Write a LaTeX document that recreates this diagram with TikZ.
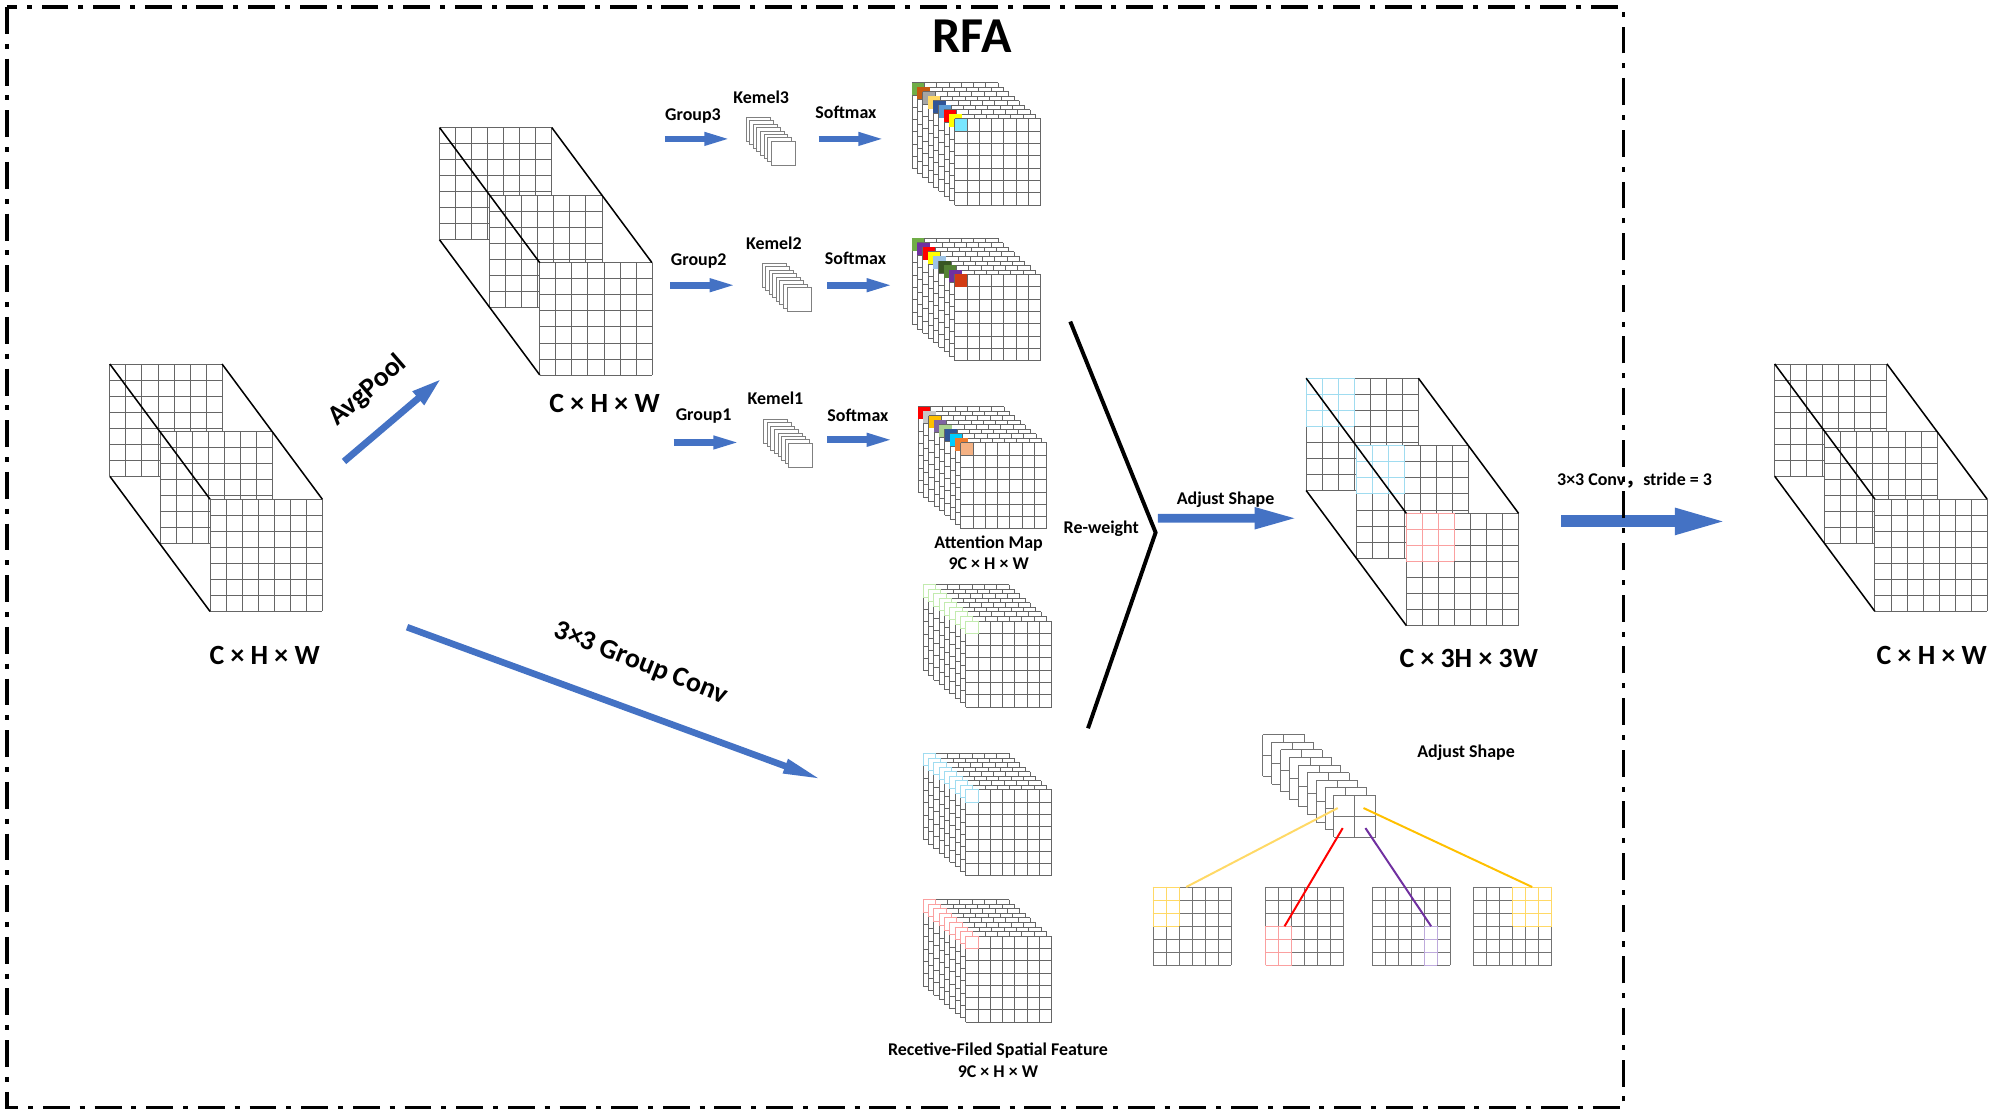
\documentclass[tikz,border=0pt]{standalone}
\usepackage{fontspec}
\setmainfont{Carlito}
\newfontfamily\cjk{Noto Sans CJK SC}
\usetikzlibrary{positioning,arrows.meta}
\tikzset{>=latex}

\definecolor{ArrowBlue}{RGB}{68,114,196}
\definecolor{amGreen}{RGB}{112,173,71}
\definecolor{amBrown}{RGB}{197,90,17}
\definecolor{amGray}{RGB}{165,165,165}
\definecolor{amGold}{RGB}{255,217,102}
\definecolor{amNavy}{RGB}{47,85,151}
\definecolor{amSky}{RGB}{91,155,213}
\definecolor{amRed}{RGB}{255,0,0}
\definecolor{amYellow}{RGB}{255,255,0}
\definecolor{amCyan}{RGB}{120,230,255}
\definecolor{amPurple}{RGB}{112,48,160}
\definecolor{amPale}{RGB}{157,195,230}
\definecolor{amForest}{RGB}{56,87,35}
\definecolor{amLeaf}{RGB}{84,130,53}
\definecolor{amRust}{RGB}{210,60,20}
\definecolor{amSilver}{RGB}{200,200,200}
\definecolor{amAmber}{RGB}{255,192,0}
\definecolor{amViolet}{RGB}{128,100,162}
\definecolor{amSage}{RGB}{169,209,142}
\definecolor{amAqua}{RGB}{0,204,255}
\definecolor{amOrange}{RGB}{237,125,49}
\definecolor{amPeach}{RGB}{244,177,131}
\definecolor{tintGreen}{RGB}{195,235,175}
\definecolor{tintCyan}{RGB}{160,220,240}
\definecolor{tintRed}{RGB}{250,160,160}
\definecolor{tintViolet}{RGB}{190,170,220}

% one white sheet with an n x n grid
\newcommand{\gridsheet}[4]{%
  \fill[white] (#1,#2) rectangle ++(#3*#4,#3*#4);
  \foreach \g in {0,...,#3}{%
    \draw[gridline] (#1+\g*#4,#2) -- ++(0,#3*#4);
    \draw[gridline] (#1,#2+\g*#4) -- ++(#3*#4,0);
  }%
}
% coloured lines over a block of cells
\newcommand{\tintblock}[6]{%
  \foreach \g in {0,...,#3}{\draw[#6,line width=0.45pt] (#1+\g*#5,#2) -- ++(0,#4*#5);}
  \foreach \g in {0,...,#4}{\draw[#6,line width=0.45pt] (#1,#2+\g*#5) -- ++(#3*#5,0);}
}
% feature cube: three sheets and its edges
\newcommand{\featcube}[4][]{%
  \foreach \k in {0,1,2}{\gridsheet{#3+\k*39.3}{#4+\k*53}{7}{12.57}}
  #1
  \coordinate (#2) at (#3,#4);
  \draw[cubeedge] (#2) -- ++(78.6,106);
  \draw[cubeedge] (#3+88,#4) -- ++(78.6,106);
  \draw[cubeedge] (#3,#4+88) -- ++(78.6,106);
}
% stack of nine maps, first cell marked
\newcommand{\mapstack}[4]{%
  \foreach \col [count=\i from 0] in {#4}{%
    \gridsheet{#1+\i*4.18}{#2+\i*3.55}{7}{9.65}
    \path[#3=\col,line width=0.45pt] (#1+\i*4.18,#2+\i*3.55) rectangle ++(9.65,9.65);
  }%
}
% stack of kernels
\newcommand{\kernstack}[2]{%
  \foreach \i in {0,...,7}{\filldraw[kernsheet] (#1+\i*2.8,#2+\i*2.7) rectangle ++(18.8,18.8);}
}

\begin{document}
\begin{tikzpicture}[x=0.025cm,y=-0.025cm,
    gridline/.style={black!60,line width=0.45pt},
    cubeedge/.style={black,line width=0.85pt},
    kernsheet/.style={draw=black!50,fill=white,line width=0.45pt},
    flow/.style={ArrowBlue,line width=3.7pt,-{Triangle[length=16pt,width=6.5pt]}},
    lbl/.style={font=\fontsize{10}{12}\selectfont\bfseries,inner sep=0pt},
    dimlbl/.style={font=\fontsize{15.5}{18}\selectfont\bfseries,inner sep=0pt},
    link/.style={line width=1.1pt}]
    \useasboundingbox (0,0) rectangle (1568,875);

    % cubes
    \featcube{incube}{86.1}{285.4}
    \featcube{poolcube}{344.6}{100}
    \featcube[\tintblock{1024}{296.5}{3}{3}{12.57}{tintCyan}
              \tintblock{1063.3}{349.5}{3}{3}{12.57}{tintCyan}
              \tintblock{1102.6}{402.5}{3}{3}{12.57}{tintRed}]{bigcube}{1024}{296.5}
    \featcube{outcube}{1391.3}{285.3}
    \node[dimlbl] (inlbl) at (207.5,514) {C × H × W};
    \node[dimlbl] (poollbl) at (474,316) {C × H × W};
    \node[dimlbl] (biglbl) at (1151.5,516.5) {C × 3H × 3W};
    \node[dimlbl] (outlbl) at (1514.5,514) {C × H × W};

    % kernels and attention maps
    \kernstack{584.9}{91.9}
    \kernstack{597.4}{206.4}
    \kernstack{598.7}{328.6}
    \mapstack{715}{64.8}{fill}{amGreen,amBrown,amGray,amGold,amNavy,amSky,amRed,amYellow,amCyan}
    \mapstack{715}{186.8}{fill}{amGreen,amPurple,amRed,amYellow,amPale,amForest,amLeaf,amPurple,amRust}
    \mapstack{719.7}{318.7}{fill}{amRed,amSilver,amAmber,amViolet,amSage,amNavy,amAqua,amOrange,amPeach}

    % receptive-field features
    \mapstack{723.6}{458.4}{draw}{tintGreen,tintGreen,tintGreen,tintGreen,tintGreen,tintGreen,tintGreen,tintGreen,tintGreen}
    \mapstack{723.6}{590.7}{draw}{tintCyan,tintCyan,tintCyan,tintCyan,tintCyan,tintCyan,tintCyan,tintCyan,tintCyan}
    \mapstack{723.6}{705.4}{draw}{tintRed,tintRed,tintRed,tintRed,tintRed,tintRed,tintRed,tintRed,tintRed}

    % group branches
    \coordinate (g3-s) at (521.2,108.9); \coordinate (g3-e) at (574.7,108.9);
    \coordinate (s3-s) at (641.8,108.9); \coordinate (s3-e) at (695.4,108.9);
    \coordinate (g2-s) at (525.6,223.6); \coordinate (g2-e) at (578.9,223.6);
    \coordinate (s2-s) at (648.7,223.6); \coordinate (s2-e) at (702,223.6);
    \coordinate (g1-s) at (528.2,346.9); \coordinate (g1-e) at (581.8,346.9);
    \coordinate (s1-s) at (648.7,344.8); \coordinate (s1-e) at (702,344.8);
    \foreach \a in {g3,s3,g2,s2,g1,s1} \draw[flow] (\a-s) -- (\a-e);
    \node[lbl] (g3lbl) at (543.3,90.7) {Group3};
    \node[lbl] (k3lbl) at (596.8,76.3) {Kemel3};
    \node[lbl] (s3lbl) at (663.2,88) {Softmax};
    \node[lbl] (g2lbl) at (547.8,205) {Group2};
    \node[lbl] (k2lbl) at (606.7,190.7) {Kemel2};
    \node[lbl] (s2lbl) at (670.7,202.5) {Softmax};
    \node[lbl] (g1lbl) at (551.6,326) {Group1};
    \node[lbl] (k1lbl) at (608,312.2) {Kemel1};
    \node[lbl] (s1lbl) at (672.6,326) {Softmax};
    \node[lbl] (attlbl) at (775.1,425.8) {Attention Map};
    \node[lbl,below=3.5pt of attlbl] (attdim) {9C × H × W};
    \node[lbl] (rflbl) at (782.4,824) {Recetive-Filed Spatial Feature};
    \node[lbl,below=3.5pt of rflbl] (rfdim) {9C × H × W};

    % avgpool and group conv
    \coordinate (pool-s) at (269.7,361.8); \coordinate (pool-e) at (346.1,296.8);
    \draw[ArrowBlue,line width=3.8pt,-{Triangle[length=17pt,width=9pt]}] (pool-s) -- (pool-e);
    \node[dimlbl,rotate=41] (poolop) at (288.3,306.3) {AvgPool};
    \coordinate (gc-s) at (319.1,491.7); \coordinate (gc-e) at (644.7,611.3);
    \draw[ArrowBlue,line width=3.7pt,-{Triangle[length=22pt,width=7.5pt]}] (gc-s) -- (gc-e);
    \node[dimlbl,rotate=-21.5] (gcop) at (502.6,520.4) {3×3 Group Conv};

    % re-weight
    \coordinate (rw-t) at (839.1,252.1); \coordinate (rw-m) at (906,417.5); \coordinate (rw-b) at (853,571);
    \draw[line width=2.2pt] (rw-t) -- (rw-m) -- (rw-b);
    \node[lbl] (rwlbl) at (863.4,414.8) {Re-weight};
    \coordinate (adj-e) at (1018.3,406.3);
    \draw[ArrowBlue,line width=5pt,-{Triangle[length=24.7pt,width=10.8pt]}] (rw-m) ++(1.8,-11.2) -- (adj-e);
    \node[lbl] (adjlbl) at (960.8,391.8) {Adjust Shape};

    % final conv
    \coordinate (cv-s) at (1223.9,408.8); \coordinate (cv-e) at (1356.6,408.8);
    \draw[ArrowBlue,line width=6.7pt,-{Triangle[length=31pt,width=13pt]}] (cv-s) -- (cv-e);
    \node[lbl] (cvlbl) at (1281.5,377) {3×3 Conv{\cjk ，}stride = 3};

    % adjust shape detail
    \begin{scope}[gridline/.style={black!55,line width=0.45pt}]
        \foreach \i in {0,...,8} {\gridsheet{990.1+\i*6.95}{576+\i*5.95}{2}{16.35}}
        \gridsheet{903.9}{695.4}{6}{10.22}
        \gridsheet{992.2}{695.4}{6}{10.22}
        \gridsheet{1075.8}{695.4}{6}{10.22}
        \gridsheet{1155.2}{695.4}{6}{10.22}
    \end{scope}
    \tintblock{903.9}{695.4}{2}{3}{10.22}{amGold}
    \tintblock{992.2}{695.4+3*10.22}{2}{3}{10.22}{tintRed}
    \tintblock{1075.8+4*10.22}{695.4+3*10.22}{1}{3}{10.22}{tintViolet}
    \tintblock{1155.2+3*10.22}{695.4}{3}{3}{10.22}{amGold}
    \coordinate (sel-a) at (1048.8,633.5); \coordinate (dst-a) at (930,695.4);
    \coordinate (sel-b) at (1052.7,649.2); \coordinate (dst-b) at (1007.1,726.2);
    \coordinate (sel-c) at (1070.5,649.2); \coordinate (dst-c) at (1122,726.2);
    \coordinate (sel-d) at (1069,633.5);   \coordinate (dst-d) at (1201.2,695.4);
    \draw[link,amGold] (sel-a) -- (dst-a);
    \draw[link,amRed] (sel-b) -- (dst-b);
    \draw[link,amPurple] (sel-c) -- (dst-c);
    \draw[link,amAmber] (sel-d) -- (dst-d);
    \node[lbl] (adj2lbl) at (1149.4,590.4) {Adjust Shape};

    % title and frame
    \node[font=\fontsize{28}{32}\selectfont\bfseries,inner sep=0pt] (title) at (762,28.5) {RFA};
    \draw[line width=1.7pt,dash pattern=on 15pt off 5.5pt on 2.8pt off 5.5pt] (5.5,5.5) rectangle (1272.7,868.3);
\end{tikzpicture}
\end{document}
